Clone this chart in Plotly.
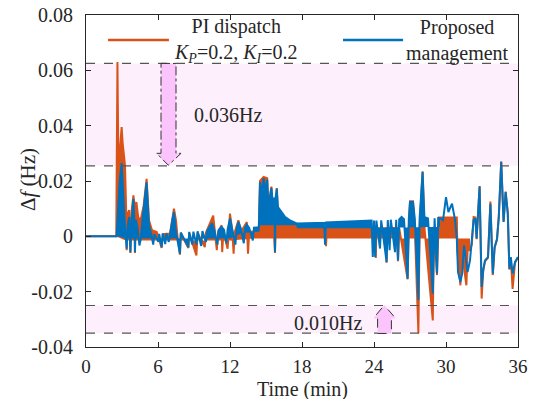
import plotly.graph_objects as go

# ---------------- data ----------------
# time in minutes, frequency deviation in Hz
# Proposed management (blue): dense band part + tail part
pm_band_t = [0, 2.55, 2.65, 2.8, 2.97, 3.1, 3.25, 3.39, 3.47, 3.6, 3.7, 3.8, 3.95, 4.05, 4.08, 4.15,
             4.3, 4.45, 4.55, 4.7, 5.05, 5.25, 5.45, 5.6, 5.7, 6.03, 6.1, 6.3, 6.4, 6.6, 6.7, 6.9, 7.0,
             7.2, 7.33, 7.5, 7.83, 7.9, 8.53, 8.6, 8.85, 8.95, 9.2, 9.3, 9.6, 9.7, 10.0, 10.1, 10.5,
             10.7, 10.95, 11.05, 11.3, 11.5, 11.7, 11.8, 12.0, 12.2, 12.45, 12.55, 12.7, 12.9, 13.15,
             13.25, 13.4, 13.6, 13.9, 14.0, 14.4, 14.5, 14.65, 14.8, 14.95, 15.1, 15.2, 15.45, 15.6,
             15.7, 15.75, 15.8, 15.9, 16.0, 16.3, 16.6, 17.0, 17.6, 19.85, 19.92, 20.0, 22.0, 23.8,
             23.9, 24.0, 24.1, 24.2, 24.5, 24.6, 25.05, 25.15, 25.3, 25.4, 25.75, 25.85, 26.0, 26.1,
             26.3, 26.5, 26.8, 26.9, 27.0, 27.25, 27.4, 27.7, 27.8, 28.05, 28.2, 28.5, 28.9, 29.05,
             29.25, 29.35, 29.5]
pm_band_v = [0, 0, 0.008, 0.02, 0.0265, 0.014, 0.003, -0.0045, 0.004, 0.007, -0.0057, 0.006, 0.0135,
             0.004, -0.0057, 0.006, 0.003, -0.0033, -0.0014, 0.006, 0.0195, 0.004, 0.0007, -0.003,
             0.0008, -0.002, 0.0009, -0.0039, 0.001, -0.0028, 0.0011, -0.002, 0.0012, 0.006, 0.0088,
             0.0015, -0.0063, 0.0014, -0.0039, 0.0016, -0.003, 0.0017, -0.003, 0.0018, -0.0035,
             0.0019, -0.002, 0.002, 0.0047, 0.0022, -0.003, 0.0023, 0.0034, 0.0024, -0.0025, 0.0025,
             0.0065, 0.0026, -0.003, 0.0027, 0.0052, 0.0029, -0.0025, 0.003, 0.0042, 0.003, -0.0015,
             0.0031, 0.0033, 0.0196, 0.015, 0.021, 0.016, 0.0205, 0.0106, 0.0175, 0.0106, 0.014,
             -0.0057, 0.014, 0.0172, 0.0106, 0.009, 0.007, 0.0058, 0.0046, 0.0049, -0.003, 0.005,
             0.0053, 0.0057, -0.0075, 0.0057, -0.0075, 0.0057, -0.0044, 0.0058, -0.0093, 0.0059,
             -0.005, 0.006, -0.0057, 0.006, -0.0087, 0.0061, 0.007, 0.0062, -0.0153, 0.0062, 0.0124,
             0.0124, 0.0063, -0.023, 0.0063, 0.0232, 0.007, 0.0065, -0.0207, 0.0065, -0.0134, 0.0066,
             0.0066]
pm_floor_t = [0, 2.6, 3.3, 12, 13, 14.45, 14.5, 17.5, 17.6, 24, 29.5]
pm_floor_v = [0, 0, -0.0008, -0.0008, 0.0012, 0.0017, 0.004, 0.004, 0.0029, 0.003, 0.0035]
pm_tail_t = [29.5, 29.75, 30.0, 30.2, 30.5, 30.75, 30.9, 31.0, 31.2, 31.35, 31.5, 31.7, 31.8, 32.0,
             32.15, 32.3, 32.45, 32.55, 32.8, 32.97, 33.1, 33.25, 33.5, 33.7, 33.9, 34.05, 34.25,
             34.4, 34.6, 34.8, 34.97, 35.15, 35.28, 35.4, 35.55, 35.75, 36.0]
pm_tail_v = [0.0066, 0.0058, 0.0142, 0.0088, 0.0118, 0.006, -0.0008, -0.0129, -0.0165, -0.0134,
             -0.0033, -0.0099, -0.0129, -0.0087, -0.0025, 0.0058, 0.0065, -0.0008, 0.018, -0.0183,
             -0.0123, -0.0087, -0.0075, 0.0118, -0.0135, -0.0039, -0.001, 0.007, 0.0269, 0.0052,
             0.016, 0.0082, -0.0117, -0.0075, -0.0135, -0.0093, -0.0075]

# PI dispatch (orange): dense band part + tail part
pi_band_t = [0, 2.52, 2.62, 2.7, 2.8, 2.97, 3.05, 3.15, 3.25, 3.35, 3.39, 3.45, 3.6, 3.7, 3.8, 3.95,
             4.05, 4.08, 4.12, 4.2, 4.35, 4.55, 4.8, 5.05, 5.25, 5.5, 5.9, 6.3, 6.4, 7.0, 7.15, 7.33,
             7.5, 7.6, 7.83, 7.9, 8.53, 8.6, 9.2, 9.3, 9.9, 10.0, 10.6, 10.75, 10.9, 11.0, 11.3, 11.35,
             11.45, 11.8, 11.9, 12.0, 12.2, 12.3, 12.4, 12.7, 12.9, 13.4, 13.5, 13.6, 14.4, 14.5, 14.8,
             15.1, 15.2, 15.45, 15.75, 15.9, 16.0, 17.5, 17.6, 19.92, 20.0, 20.08, 24.1, 24.15, 24.2,
             25.0, 25.05, 25.1, 25.9, 26.0, 26.1, 26.8, 26.9, 27.0, 27.25, 27.4, 27.7, 27.8, 28.05,
             28.2, 28.9, 29.0, 29.25, 29.4, 30.9, 30.95, 31.2, 31.3, 31.7, 31.8, 32.0]
pi_band_v = [0, 0, 0.063, 0.026, 0.03, 0.0395, 0.034, 0.03, 0.0257, 0.0085, -0.005, 0.008, 0.0095,
             -0.006, 0.009, 0.0148, 0.0112, -0.006, 0.011, 0.0124, 0.007, 0.0058, 0.011, 0.0208,
             0.0058, 0.0022, 0.0016, -0.0042, 0.0008, 0.001, 0.006, 0.010, 0.0058, 0.001, -0.0066,
             0.001, -0.0042, 0.0012, -0.0069, 0.0013, -0.0039, 0.0014, 0.0075, 0.0015, -0.005, 0.0015,
             0.004, -0.0057, 0.0016, -0.0045, 0.0016, 0.0082, 0.0016, -0.0063, 0.0016, 0.0058, 0.0016,
             0.0052, -0.0063, 0.0017, 0.0018, 0.02, 0.0215, 0.021, 0.011, 0.018, -0.006, 0.0175,
             0.004, 0.004, 0.0029, 0.0029, -0.0036, 0.0029, 0.0029, -0.0078, 0.0029, 0.003, -0.0095,
             0.003, 0.003, -0.009, 0.003, -0.0155, 0.0031, 0.0127, 0.0127, 0.0032, -0.035, 0.0032,
             0.0235, 0.0033, -0.0304, 0.0034, -0.014, 0.0068, 0.0068, -0.005, -0.0177, -0.005,
             -0.0177, -0.005, -0.005]
pi_floor_t = [0, 2.5, 3.3, 12, 14, 32.0]
pi_floor_v = [0, 0, -0.0015, -0.0015, -0.0008, -0.0008]
pi_tail_t = [32.0, 32.15, 32.3, 32.45, 32.55, 32.8, 32.97, 33.1, 33.25, 33.5, 33.7, 33.9, 34.05,
             34.25, 34.4, 34.6, 34.8, 34.97, 35.15, 35.28, 35.4, 35.55, 35.75, 36.0]
pi_tail_v = [-0.005, -0.003, 0.007, 0.0068, -0.001, 0.0182, -0.0225, -0.0125, -0.009, -0.0078,
             0.0126, -0.014, -0.0042, -0.0012, 0.0072, 0.027, 0.0054, 0.0162, 0.0084, -0.012, -0.008,
             -0.019, -0.0095, -0.0077]

# bands of the deviation ranges
upper_band = [0.0255, 0.0625]   # 0.036 Hz
lower_band = [-0.035, -0.025]   # 0.010 Hz

x_ticks = [0, 6, 12, 18, 24, 30, 36]
y_ticks = [-0.04, -0.02, 0, 0.02, 0.04, 0.06, 0.08]
y_ticktext = ["-0.04", "-0.02", "0", "0.02", "0.04", "0.06", "0.08"]

ORANGE = "#D95319"
BLUE = "#0072BD"
INK = "#262626"
FONT = "Liberation Serif, Times New Roman, serif"

fig = go.Figure()
# PI dispatch
fig.add_trace(go.Scatter(x=pi_floor_t, y=pi_floor_v, mode="lines", line=dict(width=0, color=ORANGE),
                         showlegend=False, hoverinfo="skip"))
fig.add_trace(go.Scatter(x=pi_band_t, y=pi_band_v, mode="lines", fill="tonexty", fillcolor=ORANGE,
                         line=dict(color=ORANGE, width=2), name="PI dispatch", showlegend=False))
fig.add_trace(go.Scatter(x=pi_tail_t, y=pi_tail_v, mode="lines", line=dict(color=ORANGE, width=2),
                         name="PI dispatch", showlegend=False))
# Proposed management
fig.add_trace(go.Scatter(x=pm_floor_t, y=pm_floor_v, mode="lines", line=dict(width=0, color=BLUE),
                         showlegend=False, hoverinfo="skip"))
fig.add_trace(go.Scatter(x=pm_band_t, y=pm_band_v, mode="lines", fill="tonexty", fillcolor=BLUE,
                         line=dict(color=BLUE, width=2), name="Proposed management", showlegend=False))
fig.add_trace(go.Scatter(x=pm_tail_t, y=pm_tail_v, mode="lines", line=dict(color=BLUE, width=2),
                         name="Proposed management", showlegend=False))

shapes = []
for lo, hi in (upper_band, lower_band):
    shapes.append(dict(type="rect", xref="x", yref="y", x0=0, x1=36, y0=lo, y1=hi,
                       fillcolor="#fdf0fc", line=dict(width=0), layer="below"))
    for yv in (lo, hi):
        shapes.append(dict(type="line", xref="x", yref="y", x0=0, x1=36, y0=yv, y1=yv,
                           line=dict(color="#555555", width=1.2, dash="dash"), layer="above"))
# arrows
shapes.append(dict(type="path", xref="x", yref="y",
                   path="M 6.25,0.0625 L 7.5,0.0625 L 7.5,0.0300 L 7.92,0.0300 L 6.86,0.0257 "
                        "L 5.89,0.0300 L 6.25,0.0300 Z",
                   fillcolor="#fcc4fc", line=dict(color="#333333", width=1, dash="dashdot"),
                   layer="above"))
shapes.append(dict(type="path", xref="x", yref="y",
                   path="M 24.3,-0.0351 L 25.45,-0.0351 L 25.45,-0.0296 L 25.8,-0.0296 L 24.85,-0.0249 "
                        "L 23.95,-0.0296 L 24.3,-0.0296 Z",
                   fillcolor="#fcc4fc", line=dict(color="#333333", width=1, dash="dash"),
                   layer="above"))
# legend samples
shapes.append(dict(type="line", xref="paper", yref="paper", x0=0.051, x1=0.192, y0=0.9247, y1=0.9247,
                   line=dict(color=ORANGE, width=2.5)))
shapes.append(dict(type="line", xref="paper", yref="paper", x0=0.595, x1=0.734, y0=0.9247, y1=0.9247,
                   line=dict(color=BLUE, width=2.5)))

annotations = [
    dict(xref="paper", yref="paper", x=0.347, y=0.922, xanchor="center", yanchor="middle",
         text="PI dispatch<br><i>K</i><sub><i>P</i></sub>=0.2, <i>K</i><sub><i>I</i></sub>=0.2",
         showarrow=False, align="center", font=dict(family=FONT, size=20, color=INK)),
    dict(xref="paper", yref="paper", x=0.861, y=0.922, xanchor="center", yanchor="middle",
         text="Proposed<br>management", showarrow=False, align="center",
         font=dict(family=FONT, size=20, color=INK)),
    dict(xref="x", yref="y", x=11.8, y=0.0437, text="0.036Hz", showarrow=False,
         font=dict(family=FONT, size=20, color=INK)),
    dict(xref="x", yref="y", x=20.2, y=-0.0315, text="0.010Hz", showarrow=False,
         font=dict(family=FONT, size=20, color=INK)),
    # axis titles
    dict(xref="paper", yref="paper", x=0.5, y=-0.127, xanchor="center", yanchor="middle",
         text="Time (min)", showarrow=False, font=dict(family=FONT, size=20, color=INK)),
    dict(xref="paper", yref="paper", x=-0.134, y=0.503, xanchor="center", yanchor="middle",
         text="Δ<i>f</i> (Hz)", textangle=-90, showarrow=False,
         font=dict(family=FONT, size=21, color=INK)),
]

# the page body adds an 8 px margin, so the figure is 16 px smaller than the window
fig.update_layout(
    width=530, height=391,
    margin=dict(l=78, r=20, t=7, b=52),
    paper_bgcolor="white", plot_bgcolor="white",
    font=dict(family=FONT, size=20, color=INK),
    shapes=shapes, annotations=annotations,
    showlegend=False,
)
fig.update_xaxes(range=[0, 36], tickvals=x_ticks, ticks="inside", ticklen=5, tickcolor=INK,
                 showline=True, linecolor=INK, linewidth=1, mirror="ticks", showgrid=False,
                 zeroline=False, ticklabelstandoff=2, automargin=False, ticklabeloverflow="allow",
                 tickfont=dict(family=FONT, size=19, color=INK))
fig.update_yaxes(range=[-0.04, 0.08], tickvals=y_ticks, ticktext=y_ticktext, ticks="inside", ticklen=5,
                 tickcolor=INK, showline=True, linecolor=INK, linewidth=1, mirror="ticks",
                 showgrid=False, zeroline=False, ticklabelstandoff=8, automargin=False,
                 ticklabeloverflow="allow",
                 tickfont=dict(family=FONT, size=20, color=INK))

fig.write_html("out.html")
